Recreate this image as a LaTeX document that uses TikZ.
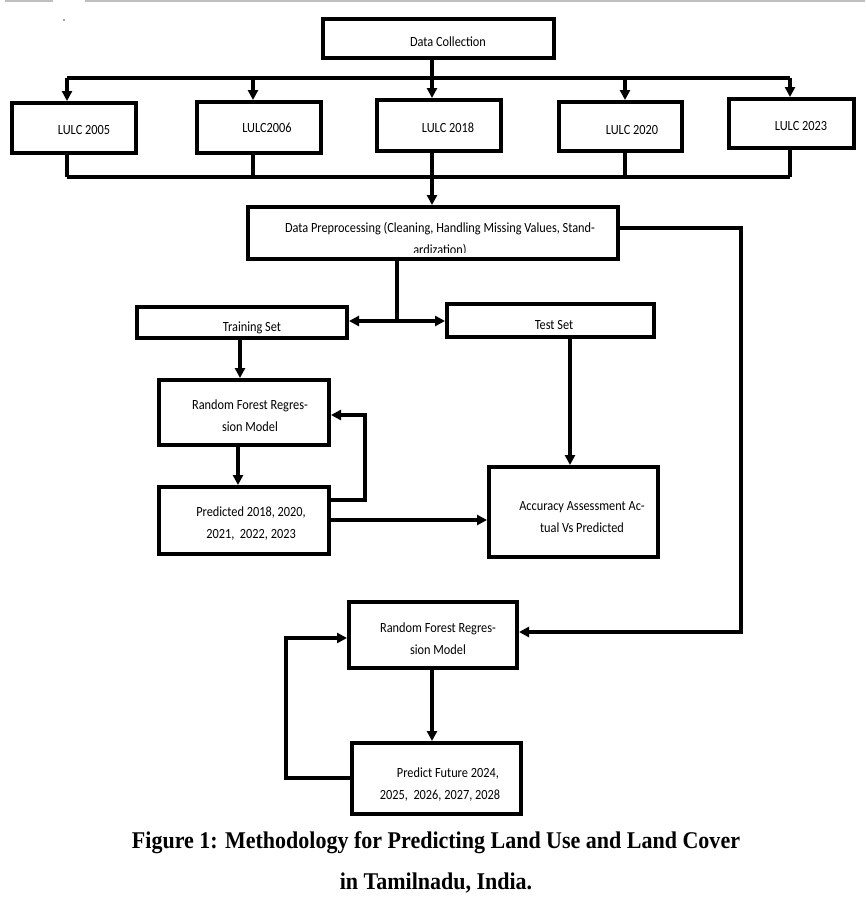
\documentclass[tikz,border=0pt]{standalone}
\usepackage{fontspec}
\setmainfont{Carlito}
\newfontfamily\capfont{Liberation Serif}
\usetikzlibrary{arrows.meta,calc}
\newcommand\cond[1]{\scalebox{0.88}[1]{#1}}
\tikzset{
  box/.style={draw=black, line width=4pt, fill=white, inner sep=0pt},
  txt/.style={font=\fontsize{14}{22}\selectfont, align=center, inner sep=0pt},
  conn/.style={line width=3.6pt, draw=black},
  arr/.style={conn, -{Triangle[length=10pt,width=10pt]}},
  capt/.style={font=\capfont\bfseries\fontsize{24}{28}\selectfont, inner sep=0pt}
}
\newcommand\bx[5]{%
  \node[box, minimum width={(#4-#2-4)*1pt}, minimum height={(#5-#3-4)*1pt}] (#1) at ({(#2+#4)/2},{(#3+#5)/2}) {};}
\begin{document}
\begin{tikzpicture}[x=1pt,y=-1pt]
\useasboundingbox[fill=white] (0,0) rectangle (865,907);
% top gray rule and dot
\draw[black!25, line width=1.5pt] (5,1) -- (53,1);
\draw[black!25, line width=1.5pt] (85,1) -- (865,1);
\fill[black!70] (64,20) circle (0.8pt);

% boxes
\bx{dc}{321}{17}{556}{60}
\bx{l1}{10}{101}{138}{155}
\bx{l2}{195}{100}{323}{155}
\bx{l3}{375}{98}{503}{153}
\bx{l4}{557}{100}{684}{153}
\bx{l5}{727}{97}{856}{150}
\bx{dp}{246}{205}{620}{261}
\bx{train}{135}{305}{349}{340}
\bx{test}{445}{302}{656}{339}
\bx{rf1}{157}{378}{331}{447}
\bx{pred}{157}{485}{331}{556}
\bx{acc}{487}{465}{660}{559}
\bx{rf2}{347}{600}{519}{670}
\bx{pf}{350}{741}{523}{816}

% texts
\node[txt] (dc-t) at (448,42) {\cond{Data Collection}};
\node[txt] (l1-t) at (84,130) {\cond{LULC 2005}};
\node[txt] (l2-t) at (267,128) {\cond{LULC2006}};
\node[txt] (l3-t) at (448,128) {\cond{LULC 2018}};
\node[txt] (l4-t) at (632,130) {\cond{LULC 2020}};
\node[txt] (l5-t) at (801,126) {\cond{LULC 2023}};
\begin{scope}
  \clip (dp.north west) rectangle ($(dp.east)+(0,19)$);
  \node[txt] (dp-t) at (440,239.5) {\cond{Data Preprocessing (Cleaning, Handling Missing Values, Stand-}\\\cond{ardization)}};
\end{scope}
\node[txt] (train-t) at (252,328) {\cond{Training Set}};
\node[txt] (test-t) at (554,325) {\cond{Test Set}};
\node[txt] (rf1-t) at (250,416) {\cond{Random Forest Regres-}\\\cond{sion Model}};
\node[txt] (pred-t) at (251,524) {\cond{Predicted 2018, 2020,}\\\cond{2021,\ \ 2022,\ 2023}};
\node[txt] (acc-t) at (582,517) {\cond{Accuracy Assessment Ac-}\\\cond{tual Vs Predicted}};
\node[txt] (rf2-t) at (438,639) {\cond{Random Forest Regres-}\\\cond{sion Model}};
\node[txt] (pf-t) at (440,784.5) {\cond{\hspace*{18pt}Predict Future 2024,}\\\cond{2025,\ \ 2026,\ 2027,\ 2028}};

% top distribution
\coordinate (tb1) at (67,78);
\coordinate (tb2) at (253,78);
\coordinate (tb3) at (432,78);
\coordinate (tb4) at (625,78);
\coordinate (tb5) at (790,78);
\draw[conn] (dc.south -| tb3) -- (tb3);
\draw[conn] (tb1) -- (tb5);
\draw[arr] (tb1) -- (tb1 |- l1.north);
\draw[arr] (tb2) -- (tb2 |- l2.north);
\draw[arr] (tb3) -- (tb3 |- l3.north);
\draw[arr] (tb4) -- (tb4 |- l4.north);
\draw[arr] (tb5) -- (tb5 |- l5.north);

% bottom collection
\coordinate (bb1) at (67,177);
\coordinate (bb5) at (790,177);
\draw[conn] (bb1) -- (bb5);
\draw[conn] (l1.south -| bb1) -- (bb1);
\draw[conn] (l2.south -| tb2) -- (tb2 |- bb1);
\draw[conn] (l4.south -| tb4) -- (tb4 |- bb1);
\draw[conn] (l5.south -| bb5) -- (bb5);
\draw[arr] (l3.south -| tb3) -- (dp.north -| tb3);

% preprocessing to right
\coordinate (r1) at (741,228);
\coordinate (r2) at (741,632);
\draw[arr] (dp.east |- r1) -- (r1) -- (r2) -- (rf2.east |- r2);

% split
\coordinate (s) at (397,321);
\draw[conn] (dp.south -| s) -- (s);
\draw[arr] (s) -- (train.east |- s);
\draw[arr] (s) -- (test.west |- s);

% left column
\coordinate (c1) at (240,0);
\draw[arr] (train.south -| c1) -- (rf1.north -| c1);
\coordinate (c2) at (238,0);
\draw[arr] (rf1.south -| c2) -- (pred.north -| c2);
\coordinate (f1) at (365,500);
\coordinate (f2) at (365,415);
\draw[arr] (pred.east |- f1) -- (f1) -- (f2) -- (rf1.east |- f2);
\coordinate (a1) at (0,520);
\draw[arr] (pred.east |- a1) -- (acc.west |- a1);
\coordinate (c3) at (570,0);
\draw[arr] (test.south -| c3) -- (acc.north -| c3);

% lower part
\coordinate (c4) at (432,0);
\draw[arr] (rf2.south -| c4) -- (pf.north -| c4);
\coordinate (g1) at (286,778);
\coordinate (g2) at (286,638);
\draw[arr] (pf.west |- g1) -- (g1) -- (g2) -- (rf2.west |- g2);

% caption
\node[capt] (cap1) at (436,843) {\scalebox{0.917}[1]{Figure 1: Methodology for Predicting Land Use and Land Cover}};
\node[capt] (cap2) at (436,883) {\scalebox{0.917}[1]{in Tamilnadu, India.}};
\end{tikzpicture}
\end{document}
